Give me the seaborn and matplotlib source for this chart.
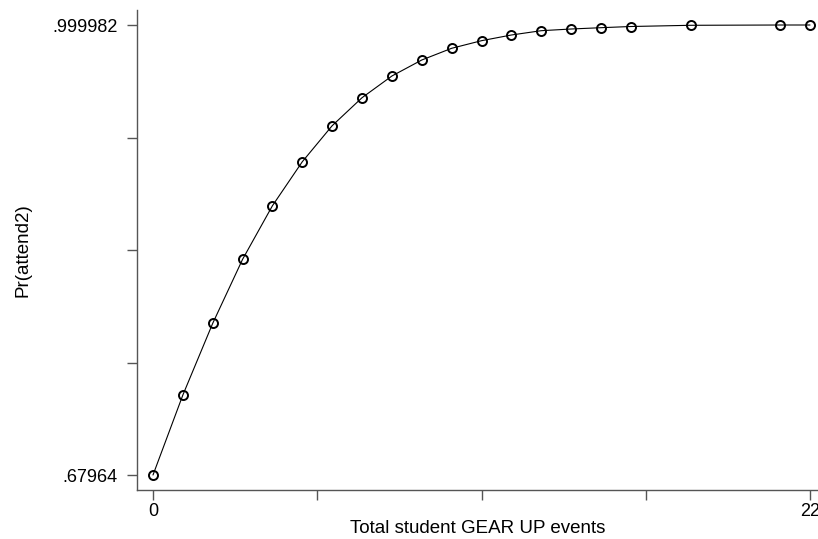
import matplotlib
matplotlib.use("Agg")
import matplotlib.pyplot as plt
import seaborn as sns
import pandas as pd

# Data
events = [0, 1, 2, 3, 4, 5, 6, 7, 8, 9, 10, 11, 12, 13, 14, 15, 16, 18, 21, 22]
prob = [0.67964, 0.73659, 0.78763, 0.83319, 0.87135, 0.90267, 0.92830, 0.94823,
        0.96368, 0.97507, 0.98340, 0.98881, 0.99286, 0.99593, 0.99713, 0.99806,
        0.99891, 0.99977, 0.999975, 0.999982]
x_ticks = [0, 5.5, 11, 16.5, 22]
x_ticklabels = ["0", "", "", "", "22"]
y_min, y_max = 0.67964, 0.999982
y_ticklabels = [".67964", "", "", "", ".999982"]

df = pd.DataFrame({"events": events, "prob": prob})

sns.set_theme(style="white")
plt.rcParams["font.family"] = ["Liberation Sans", "DejaVu Sans"]

fig = plt.figure(figsize=(8.18, 5.39), dpi=100)
ax = fig.add_axes([137 / 818, 1 - 490 / 539, 1 - 137 / 818, (490 - 10) / 539])

sns.lineplot(data=df, x="events", y="prob", ax=ax, color="black", linewidth=0.8,
             marker="o", markersize=6.5, markerfacecolor="none",
             markeredgecolor="black", markeredgewidth=1.4)

px = 29.8636  # pixels per unit x
ax.set_xlim(-16 / px, 22 + 8 / px)
ystep = (y_max - y_min) / 450
ax.set_ylim(y_min - 15 * ystep, y_max + 15 * ystep)

ax.set_xticks(x_ticks)
ax.set_xticklabels(x_ticklabels)
yt = [y_min + i * (y_max - y_min) / 4 for i in range(5)]
ax.set_yticks(yt)
ax.set_yticklabels(y_ticklabels)

for s in ["top", "right"]:
    ax.spines[s].set_visible(False)
for s in ["left", "bottom"]:
    ax.spines[s].set_color("#555555")
    ax.spines[s].set_linewidth(1.0)

ax.tick_params(axis="both", which="major", bottom=True, left=True,
               direction="out", length=7.2, width=1.0, color="#555555",
               labelsize=13, labelcolor="black")
ax.tick_params(axis="x", pad=2)
ax.tick_params(axis="y", pad=6.5)

ax.set_xlabel("Total student GEAR UP events", fontsize=13.5, color="black", labelpad=0)
ax.set_ylabel("Pr(attend2)", fontsize=13.5, color="black", labelpad=15)

fig.savefig("out.png", dpi=100)
